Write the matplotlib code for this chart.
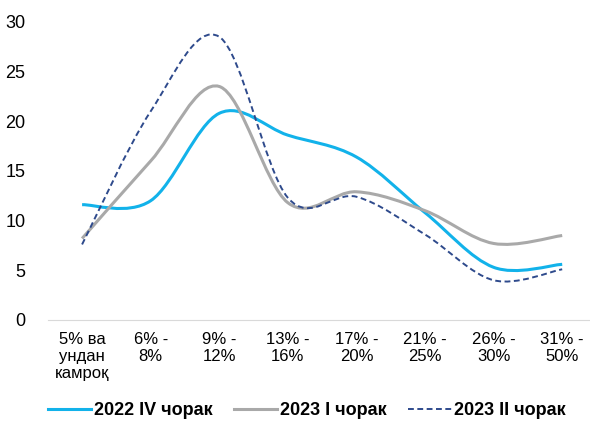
import matplotlib as mpl
mpl.use('Agg')
import matplotlib.pyplot as plt
from matplotlib.path import Path
from matplotlib.patches import PathPatch
from matplotlib.lines import Line2D

plt.rcParams['font.family'] = ['Liberation Sans', 'DejaVu Sans']

categories = ['5% ва\nундан\nкамроқ', '6% -\n8%', '9% -\n12%', '13% -\n16%',
              '17% -\n20%', '21% -\n25%', '26% -\n30%', '31% -\n50%']
q4_2022 = [11.6, 12.0, 20.8, 18.6, 16.4, 10.8, 5.3, 5.6]
q1_2023 = [8.2, 16.0, 23.5, 11.8, 12.9, 11.0, 7.7, 8.5]
q2_2023 = [7.6, 21.0, 28.5, 12.3, 12.4, 8.6, 4.0, 5.1]
names = ['2022 IV чорак', '2023 I чорак', '2023 II чорак']

colors = ['#12B2EA', '#A9A9A9', '#2E4A8C']
styles = ['-', '-', (0, (3, 1.8))]
widths = [2.2, 2.2, 1.4]


def smooth_path(xs, ys):
    # excel-like smoothed line: catmull-rom turned into cubic bezier segments
    pts = list(zip(xs, ys))
    n = len(pts)
    verts = [pts[0]]
    codes = [Path.MOVETO]
    for i in range(n - 1):
        p0 = pts[i - 1] if i > 0 else pts[i]
        p1 = pts[i]
        p2 = pts[i + 1]
        p3 = pts[i + 2] if i + 2 < n else pts[i + 1]
        c1 = (p1[0] + (p2[0] - p0[0]) / 6, p1[1] + (p2[1] - p0[1]) / 6)
        c2 = (p2[0] - (p3[0] - p1[0]) / 6, p2[1] - (p3[1] - p1[1]) / 6)
        verts += [c1, c2, p2]
        codes += [Path.CURVE4] * 3
    return Path(verts, codes)


fig = plt.figure(figsize=(5.9, 4.21), dpi=100)
ax = fig.add_axes([0.081, 0.24, 0.93, 0.708])

x = list(range(len(categories)))
for vals, c, ls, lw in zip([q4_2022, q1_2023, q2_2023], colors, styles, widths):
    ax.add_patch(PathPatch(smooth_path(x, vals), facecolor='none', edgecolor=c,
                           linestyle=ls, linewidth=lw, capstyle='butt'))

ax.set_xlim(-0.5, len(categories) - 0.5)
ax.set_ylim(0, 30)
ax.set_yticks([0, 5, 10, 15, 20, 25, 30])
ax.set_xticks(x)
ax.set_xticklabels(categories, fontsize=12, linespacing=1.15)
ax.tick_params(axis='y', labelsize=13, length=0, pad=16)
ax.tick_params(axis='x', length=0, pad=9)
for s in ['top', 'right', 'left']:
    ax.spines[s].set_visible(False)
ax.spines['bottom'].set_color('#D9D9D9')

handles = [Line2D([], [], color=c, linestyle=ls, linewidth=lw)
           for c, ls, lw in zip(colors, styles, widths)]
fig.legend(handles, names, loc='lower center', bbox_to_anchor=(0.52, -0.035), ncol=3,
           frameon=False, prop={'weight': 'bold', 'size': 13}, handlelength=2.4,
           handletextpad=0.15, columnspacing=1.2)

plt.savefig('out.png')
